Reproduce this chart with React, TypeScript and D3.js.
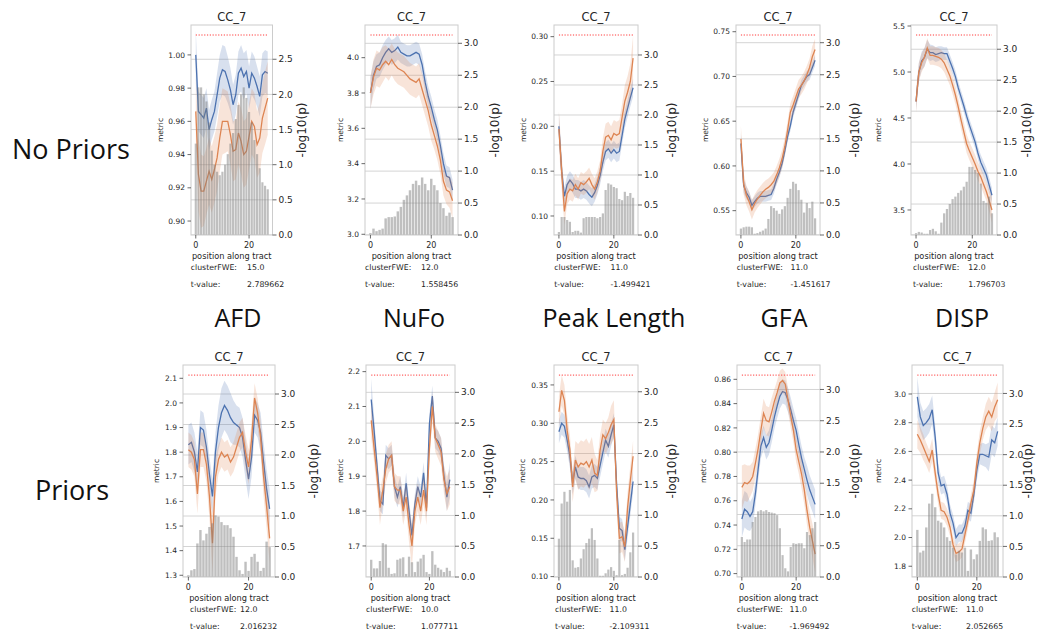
import React from "react";
import * as d3 from "d3";

// ---------------- data ----------------
const positionsAlongTract = [0,1,2,3,4,5,6,7,8,9,10,11,12,13,14,15,16,17,18,19,20,21,22,23,24,25,26,27];
const metricNames = ["AFD", "NuFo", "Peak Length", "GFA", "DISP"];
const rowNames = ["No Priors", "Priors"];
const panelTitle = "CC_7";
const xTickValues = [0, 20];
const pTickValues = [0, 0.5, 1, 1.5, 2, 2.5, 3, 3.5];
const clusterFWE = ["15.0", "12.0", "11.0", "11.0", "12.0", "12.0", "10.0", "11.0", "11.0", "11.0"];
const tValues = ["2.789662", "1.558456", "-1.499421", "-1.451617", "1.796703", "2.016232", "1.077711", "-2.109311", "-1.969492", "2.052665"];
const thresholds = [2.845, 3.13, 3.333, 3.12, 3.23, 3.31, 3.28, 3.27, 3.23, 3.3];
const metricDomains = [
  [0.8916, 1.018], [2.996, 4.185], [0.0788, 0.313], [0.5228, 0.7575], [3.228, 5.511],
  [1.293, 2.154], [1.611, 2.219], [0.0995, 0.376], [0.6972, 0.8718], [1.725, 3.202],
];
const metricTicks = [
  [0.90, 0.92, 0.94, 0.96, 0.98, 1.00],
  [3.0, 3.2, 3.4, 3.6, 3.8, 4.0],
  [0.10, 0.15, 0.20, 0.25, 0.30],
  [0.55, 0.60, 0.65, 0.70, 0.75],
  [3.5, 4.0, 4.5, 5.0, 5.5],
  [1.3, 1.4, 1.5, 1.6, 1.7, 1.8, 1.9, 2.0, 2.1],
  [1.7, 1.8, 1.9, 2.0, 2.1, 2.2],
  [0.10, 0.15, 0.20, 0.25, 0.30, 0.35],
  [0.70, 0.72, 0.74, 0.76, 0.78, 0.80, 0.82, 0.84, 0.86],
  [1.8, 2.0, 2.2, 2.4, 2.6, 2.8, 3.0],
];
const metricTickDecimals = [2, 1, 2, 2, 1, 1, 1, 2, 2, 1];

// Panel 1: AFD, no priors
const p1Blue = [1.000,0.966,0.964,0.962,0.968,0.955,0.961,0.966,0.976,0.986,0.991,0.990,0.985,0.979,0.970,0.976,0.989,0.992,0.987,0.990,0.980,0.989,0.986,0.981,0.975,0.988,0.990,0.989];
const p1BlueCI = [0.015,0.012,0.012,0.012,0.012,0.012,0.012,0.012,0.013,0.014,0.015,0.015,0.014,0.013,0.012,0.012,0.013,0.014,0.014,0.013,0.013,0.013,0.013,0.012,0.012,0.013,0.013,0.013];
const p1Orange = [0.966,0.928,0.918,0.918,0.924,0.930,0.925,0.931,0.938,0.950,0.960,0.960,0.960,0.952,0.942,0.943,0.953,0.948,0.940,0.942,0.951,0.960,0.957,0.946,0.950,0.962,0.968,0.974];
const p1OrangeCI = [0.02,0.022,0.022,0.021,0.02,0.02,0.02,0.02,0.02,0.02,0.02,0.019,0.018,0.018,0.018,0.018,0.019,0.02,0.02,0.02,0.02,0.02,0.02,0.02,0.021,0.021,0.022,0.022];
const p1Bars = [1.3,2.1,2.1,2.0,1.9,1.6,1.2,1.0,0.9,0.85,0.9,1.0,1.15,1.3,1.45,1.65,1.85,2.0,2.1,1.95,1.75,1.6,1.35,1.15,0.95,0.75,0.7,0.65];

// Panel 2: NuFo, no priors
const p2Blue = [3.80,3.90,3.95,3.96,4.00,4.03,4.05,4.03,4.04,4.06,4.03,4.02,4.01,4.01,4.02,4.03,4.02,3.96,3.86,3.78,3.72,3.65,3.59,3.50,3.40,3.33,3.32,3.25];
const p2BlueCI = [0.09,0.08,0.07,0.07,0.07,0.07,0.07,0.07,0.07,0.07,0.06,0.06,0.06,0.06,0.06,0.06,0.06,0.06,0.06,0.06,0.06,0.06,0.06,0.06,0.06,0.06,0.06,0.06];
const p2Orange = [3.80,3.89,3.94,3.93,3.96,3.98,3.96,3.99,3.96,3.94,3.93,3.92,3.90,3.88,3.87,3.86,3.88,3.82,3.76,3.70,3.62,3.56,3.50,3.42,3.30,3.25,3.24,3.19];
const p2OrangeCI = [0.09,0.1,0.1,0.1,0.1,0.09,0.09,0.09,0.09,0.09,0.09,0.09,0.09,0.09,0.09,0.09,0.09,0.09,0.09,0.09,0.09,0.08,0.08,0.08,0.08,0.08,0.09,0.1];
const p2Bars = [0.03,0.1,0.06,0.08,0.1,0.26,0.28,0.28,0.29,0.37,0.44,0.55,0.62,0.7,0.8,0.85,0.78,0.9,0.8,0.7,0.88,0.78,0.7,0.5,0.42,0.3,0.35,0.28];

// Panel 3: Peak Length, no priors
const p3Blue = [0.200,0.150,0.122,0.135,0.140,0.136,0.130,0.130,0.128,0.130,0.128,0.124,0.121,0.126,0.134,0.145,0.160,0.172,0.175,0.170,0.174,0.170,0.172,0.190,0.208,0.220,0.232,0.243];
const p3BlueCI = [0.015,0.012,0.01,0.01,0.01,0.01,0.01,0.01,0.01,0.01,0.01,0.01,0.01,0.01,0.01,0.01,0.01,0.01,0.01,0.01,0.01,0.01,0.01,0.01,0.01,0.01,0.01,0.01];
const p3Orange = [0.197,0.150,0.105,0.125,0.130,0.128,0.135,0.130,0.137,0.135,0.138,0.142,0.135,0.130,0.138,0.150,0.172,0.188,0.190,0.185,0.192,0.190,0.192,0.210,0.228,0.238,0.250,0.276];
const p3OrangeCI = [0.02,0.02,0.015,0.012,0.012,0.012,0.012,0.012,0.012,0.012,0.012,0.012,0.012,0.012,0.012,0.012,0.015,0.015,0.015,0.015,0.015,0.015,0.015,0.015,0.018,0.018,0.02,0.025];
const p3Bars = [0.05,0.3,0.3,0.25,0.22,0.05,0.07,0.07,0.04,0.28,0.3,0.3,0.3,0.3,0.28,0.3,0.36,0.75,0.86,0.84,0.8,0.78,0.6,0.58,0.72,0.65,0.7,0.62];

// Panel 4: GFA, no priors
const p4Blue = [0.625,0.578,0.570,0.565,0.556,0.560,0.564,0.566,0.566,0.566,0.567,0.568,0.575,0.585,0.593,0.603,0.617,0.633,0.645,0.660,0.670,0.680,0.690,0.695,0.700,0.702,0.710,0.718];
const p4BlueCI = [0.012,0.008,0.007,0.006,0.006,0.006,0.006,0.006,0.006,0.006,0.006,0.006,0.006,0.006,0.006,0.006,0.006,0.006,0.006,0.006,0.006,0.006,0.006,0.006,0.006,0.006,0.006,0.006];
const p4Orange = [0.630,0.580,0.567,0.560,0.551,0.558,0.563,0.567,0.571,0.574,0.576,0.579,0.583,0.590,0.598,0.608,0.622,0.640,0.660,0.668,0.677,0.686,0.690,0.695,0.702,0.710,0.722,0.730];
const p4OrangeCI = [0.015,0.012,0.011,0.011,0.011,0.01,0.01,0.01,0.01,0.01,0.01,0.01,0.01,0.01,0.01,0.01,0.01,0.01,0.01,0.01,0.01,0.01,0.01,0.01,0.01,0.01,0.012,0.012];
const p4Bars = [0.1,0.12,0.13,0.13,0.12,0.02,0.03,0.05,0.07,0.1,0.25,0.45,0.42,0.38,0.33,0.4,0.45,0.58,0.72,0.83,0.8,0.7,0.55,0.35,0.5,0.42,0.52,0.26];

// Panel 5: DISP, no priors
const p5Blue = [4.68,5.00,5.12,5.16,5.25,5.21,5.21,5.19,5.20,5.21,5.20,5.20,5.12,5.04,4.95,4.83,4.73,4.63,4.52,4.42,4.33,4.24,4.12,4.02,3.95,3.88,3.77,3.66];
const p5BlueCI = [0.1,0.1,0.1,0.1,0.1,0.09,0.08,0.08,0.08,0.07,0.07,0.07,0.07,0.07,0.07,0.07,0.07,0.07,0.07,0.07,0.07,0.07,0.07,0.08,0.08,0.08,0.08,0.08];
const p5Orange = [4.68,5.00,5.10,5.16,5.26,5.18,5.18,5.17,5.16,5.14,5.10,5.03,4.96,4.86,4.75,4.62,4.48,4.35,4.22,4.14,4.07,4.00,3.92,3.86,3.78,3.70,3.60,3.50];
const p5OrangeCI = [0.12,0.1,0.1,0.1,0.11,0.1,0.1,0.1,0.1,0.1,0.1,0.1,0.1,0.1,0.1,0.1,0.1,0.1,0.1,0.1,0.1,0.1,0.1,0.1,0.1,0.1,0.12,0.14];
const p5Bars = [0.03,0.05,0.04,0.02,0.02,0.08,0.1,0.06,0.02,0.2,0.35,0.42,0.5,0.58,0.62,0.68,0.72,0.78,0.86,1.1,1.1,1.05,1.0,0.83,0.55,0.52,0.62,0.35];

// Panel 6: AFD, priors
const p6Blue = [1.83,1.84,1.80,1.72,1.90,1.89,1.82,1.71,1.62,1.80,1.90,1.96,1.99,1.97,1.94,1.92,1.91,1.90,1.86,1.77,1.69,1.78,1.95,1.93,1.88,1.76,1.65,1.57];
const p6BlueCI = [0.08,0.08,0.08,0.08,0.07,0.07,0.07,0.07,0.07,0.08,0.09,0.1,0.1,0.1,0.1,0.09,0.08,0.08,0.08,0.08,0.08,0.08,0.07,0.07,0.08,0.08,0.08,0.08];
const p6Orange = [1.81,1.80,1.77,1.63,1.81,1.81,1.75,1.62,1.43,1.70,1.77,1.80,1.78,1.79,1.76,1.78,1.82,1.86,1.88,1.80,1.74,1.85,2.02,1.96,1.86,1.70,1.58,1.45];
const p6OrangeCI = [0.07,0.07,0.07,0.08,0.07,0.07,0.07,0.09,0.12,0.08,0.06,0.06,0.06,0.06,0.06,0.06,0.06,0.06,0.06,0.07,0.07,0.07,0.06,0.06,0.07,0.08,0.09,0.1];
const p6Bars = [0.03,0.11,0.13,0.55,0.77,0.6,0.71,0.82,0.88,1.01,0.99,0.9,0.85,0.85,0.8,0.66,0.33,0.11,0.05,0.25,0.1,0.33,0.38,0.25,0.1,0.15,0.58,0.49];

// Panel 7: NuFo, priors
const p7Blue = [2.12,2.03,1.93,1.83,1.82,1.96,1.95,1.96,1.87,1.84,1.87,1.81,1.88,1.80,1.73,1.82,1.87,1.84,1.91,1.81,2.05,2.13,2.01,2.00,1.98,1.90,1.84,1.89];
const p7BlueCI = [0.06,0.04,0.03,0.03,0.03,0.03,0.03,0.03,0.03,0.03,0.03,0.03,0.03,0.03,0.03,0.03,0.03,0.03,0.03,0.03,0.03,0.03,0.03,0.03,0.03,0.03,0.04,0.05];
const p7Orange = [2.06,1.98,1.90,1.81,1.86,1.92,1.95,1.96,1.87,1.86,1.86,1.80,1.84,1.76,1.70,1.80,1.84,1.80,1.86,1.80,1.98,2.10,2.01,1.99,1.97,1.89,1.85,1.87];
const p7OrangeCI = [0.05,0.04,0.04,0.05,0.04,0.04,0.04,0.04,0.04,0.04,0.04,0.04,0.04,0.05,0.06,0.04,0.04,0.04,0.04,0.04,0.04,0.04,0.04,0.04,0.04,0.04,0.05,0.05];
const p7Bars = [0.28,0.14,0.14,0.26,0.55,0.53,0.15,0.05,0.06,0.28,0.3,0.32,0.05,0.33,0.24,0.08,0.25,0.3,0.36,0.08,0.05,0.42,0.2,0.15,0.12,0.08,0.15,0.1];

// Panel 8: Peak Length, priors
const p8Blue = [0.289,0.300,0.296,0.278,0.257,0.222,0.243,0.230,0.228,0.228,0.225,0.217,0.230,0.232,0.228,0.245,0.262,0.278,0.270,0.285,0.298,0.220,0.163,0.160,0.135,0.165,0.195,0.224];
const p8BlueCI = [0.015,0.015,0.015,0.015,0.015,0.015,0.015,0.015,0.015,0.015,0.015,0.015,0.015,0.015,0.015,0.015,0.015,0.015,0.015,0.015,0.015,0.015,0.015,0.015,0.015,0.015,0.015,0.015];
const p8Orange = [0.315,0.343,0.330,0.291,0.265,0.217,0.252,0.243,0.248,0.246,0.250,0.243,0.252,0.235,0.232,0.265,0.285,0.280,0.288,0.298,0.305,0.210,0.150,0.152,0.139,0.190,0.225,0.257];
const p8OrangeCI = [0.02,0.02,0.02,0.02,0.02,0.02,0.025,0.03,0.03,0.03,0.03,0.03,0.03,0.025,0.02,0.02,0.02,0.02,0.02,0.025,0.025,0.02,0.02,0.02,0.02,0.02,0.02,0.02];
const p8Bars = [0.62,1.19,1.38,1.22,1.41,0.27,0.15,0.16,0.3,0.45,0.55,0.62,0.79,0.6,0.3,0.02,0.02,0.06,0.12,0.16,0.1,0.03,0.6,0.03,0.05,0.15,0.4,0.72];

// Panel 9: GFA, priors
const p9Blue = [0.745,0.753,0.751,0.747,0.751,0.766,0.786,0.805,0.812,0.804,0.808,0.818,0.829,0.838,0.846,0.850,0.849,0.843,0.835,0.826,0.818,0.806,0.795,0.786,0.777,0.769,0.763,0.757];
const p9BlueCI = [0.015,0.015,0.015,0.012,0.012,0.01,0.01,0.01,0.01,0.01,0.01,0.01,0.01,0.01,0.01,0.01,0.01,0.01,0.01,0.01,0.01,0.01,0.01,0.01,0.012,0.012,0.012,0.012];
const p9Orange = [0.771,0.775,0.774,0.776,0.780,0.791,0.803,0.818,0.832,0.826,0.825,0.833,0.842,0.849,0.857,0.859,0.856,0.843,0.830,0.818,0.802,0.792,0.782,0.769,0.752,0.738,0.727,0.716];
const p9OrangeCI = [0.018,0.015,0.015,0.013,0.012,0.012,0.012,0.012,0.012,0.012,0.012,0.012,0.01,0.01,0.01,0.01,0.01,0.01,0.01,0.01,0.01,0.01,0.012,0.012,0.012,0.013,0.014,0.015];
const p9Bars = [0.64,0.56,0.6,0.6,0.88,0.96,1.05,1.07,1.05,1.07,1.04,1.03,1.02,0.99,0.78,0.35,0.14,0.09,0.48,0.54,0.53,0.54,0.54,0.46,0.72,0.67,0.78,0.88];

// Panel 10: DISP, priors
const p10Blue = [2.98,2.84,2.78,2.80,2.83,2.89,2.70,2.45,2.36,2.37,2.30,2.17,2.10,2.00,2.03,2.03,2.08,2.19,2.17,2.30,2.47,2.58,2.58,2.57,2.56,2.68,2.66,2.74];
const p10BlueCI = [0.14,0.1,0.1,0.1,0.1,0.1,0.08,0.07,0.06,0.06,0.06,0.06,0.06,0.06,0.06,0.06,0.06,0.06,0.06,0.06,0.07,0.07,0.08,0.08,0.1,0.1,0.1,0.1];
const p10Orange = [2.72,2.68,2.63,2.58,2.53,2.61,2.45,2.30,2.19,2.18,2.14,2.07,1.95,1.89,1.90,1.92,2.02,2.12,2.24,2.33,2.52,2.66,2.76,2.84,2.88,2.84,2.91,2.96];
const p10OrangeCI = [0.1,0.09,0.09,0.08,0.08,0.08,0.07,0.07,0.06,0.06,0.06,0.06,0.06,0.06,0.06,0.06,0.06,0.06,0.06,0.07,0.07,0.08,0.08,0.09,0.1,0.1,0.1,0.12];
const p10Bars = [0.77,0.4,0.43,0.81,1.2,1.36,1.14,0.92,0.89,0.81,0.65,0.59,0.48,0.37,0.43,0.4,0.48,0.1,0.45,0.29,0.37,0.59,0.81,0.78,0.59,0.6,0.73,0.65];

const panelSeries = [
  { blue: p1Blue, blueCI: p1BlueCI, orange: p1Orange, orangeCI: p1OrangeCI, bars: p1Bars },
  { blue: p2Blue, blueCI: p2BlueCI, orange: p2Orange, orangeCI: p2OrangeCI, bars: p2Bars },
  { blue: p3Blue, blueCI: p3BlueCI, orange: p3Orange, orangeCI: p3OrangeCI, bars: p3Bars },
  { blue: p4Blue, blueCI: p4BlueCI, orange: p4Orange, orangeCI: p4OrangeCI, bars: p4Bars },
  { blue: p5Blue, blueCI: p5BlueCI, orange: p5Orange, orangeCI: p5OrangeCI, bars: p5Bars },
  { blue: p6Blue, blueCI: p6BlueCI, orange: p6Orange, orangeCI: p6OrangeCI, bars: p6Bars },
  { blue: p7Blue, blueCI: p7BlueCI, orange: p7Orange, orangeCI: p7OrangeCI, bars: p7Bars },
  { blue: p8Blue, blueCI: p8BlueCI, orange: p8Orange, orangeCI: p8OrangeCI, bars: p8Bars },
  { blue: p9Blue, blueCI: p9BlueCI, orange: p9Orange, orangeCI: p9OrangeCI, bars: p9Bars },
  { blue: p10Blue, blueCI: p10BlueCI, orange: p10Orange, orangeCI: p10OrangeCI, bars: p10Bars },
];

// ---------------- layout ----------------
const panelLayout = [
  { x0: 191, x1: 272.5, y0: 25, y1: 235, metricX: 160, logX: 301.7, textX: 190.7, valX: 247 },
  { x0: 365, x1: 458, y0: 25, y1: 235, metricX: 340, logX: 494.7, textX: 365, valX: 421 },
  { x0: 554, x1: 638, y0: 25, y1: 235, metricX: 523.3, logX: 671.7, textX: 554.3, valX: 610.5 },
  { x0: 736, x1: 820, y0: 25, y1: 235, metricX: 705, logX: 855, textX: 736.7, valX: 790.5 },
  { x0: 911, x1: 997, y0: 25, y1: 235, metricX: 878.3, logX: 1026.7, textX: 913, valX: 968.3 },
  { x0: 183, x1: 275, y0: 365, y1: 577, metricX: 156, logX: 313.3, textX: 190, valX: 240 },
  { x0: 366, x1: 455, y0: 365, y1: 577, metricX: 340, logX: 488.3, textX: 366, valX: 421 },
  { x0: 554, x1: 638, y0: 365, y1: 577, metricX: 522.7, logX: 671.7, textX: 555, valX: 609.5 },
  { x0: 737, x1: 820, y0: 365, y1: 577, metricX: 703.3, logX: 855, textX: 736.7, valX: 789.5 },
  { x0: 912, x1: 1003, y0: 365, y1: 577, metricX: 878.3, logX: 1028, textX: 911.7, valX: 966 },
];
const columnLabelX = [238, 414, 614, 784, 962];
const xDomain = [-1.79, 28.79];

const BLUE = "#4c72b0";
const ORANGE = "#dd8452";
const FONT = "DejaVu Sans, sans-serif";
const TXT = "#262626";

function Panel({ i }: { i: number }) {
  const L = panelLayout[i];
  const s = panelSeries[i];
  const pos = positionsAlongTract;
  const xs = d3.scaleLinear().domain(xDomain).range([L.x0, L.x1]);
  const ym = d3.scaleLinear().domain(metricDomains[i]).range([L.y1, L.y0]);
  const pTop = thresholds[i] * 1.05;
  const yp = d3.scaleLinear().domain([0, pTop]).range([L.y1, L.y0]);
  const rTicks = pTickValues.filter((v) => v <= pTop + 1e-6);
  const line = d3.line<number>().x((_, j) => xs(pos[j])).y((d) => ym(d));
  const area = (m: number[], ci: number[]) =>
    d3.area<number>()
      .x((_, j) => xs(pos[j]))
      .y0((d, j) => ym(d - ci[j]))
      .y1((d, j) => ym(d + ci[j]))(m) || "";
  const bw = xs(0.8) - xs(0);
  const clipId = `clip${i}`;
  const fmt = d3.format(`.${metricTickDecimals[i]}f`);
  const cx = (L.x0 + L.x1) / 2;
  const cy = (L.y0 + L.y1) / 2;
  return (
    <g>
      <defs>
        <clipPath id={clipId}>
          <rect x={L.x0} y={L.y0} width={L.x1 - L.x0} height={L.y1 - L.y0} />
        </clipPath>
      </defs>
      <rect x={L.x0} y={L.y0} width={L.x1 - L.x0} height={L.y1 - L.y0} fill="#fff" />
      <g clipPath={`url(#${clipId})`}>
        {rTicks.map((t) => (
          <line key={t} x1={L.x0} x2={L.x1} y1={yp(t)} y2={yp(t)} stroke="#d4d4d4" strokeWidth={1} />
        ))}
        <path d={area(s.blue, s.blueCI)} fill={BLUE} fillOpacity={0.22} />
        <path d={line(s.blue) || ""} stroke={BLUE} fill="none" strokeWidth={1.3} />
        <path d={area(s.orange, s.orangeCI)} fill={ORANGE} fillOpacity={0.22} />
        <path d={line(s.orange) || ""} stroke={ORANGE} fill="none" strokeWidth={1.3} />
        {s.bars.map((v, j) => (
          <rect key={j} x={xs(pos[j]) - bw / 2} width={bw} y={yp(v)} height={yp(0) - yp(v)} fill="#808080" fillOpacity={0.5} />
        ))}
        <line x1={xs(pos[0])} x2={xs(pos[pos.length - 1])} y1={yp(thresholds[i])} y2={yp(thresholds[i])}
          stroke="#ff3b3b" strokeWidth={1} strokeDasharray="1.2,1.6" />
      </g>
      <rect x={L.x0} y={L.y0} width={L.x1 - L.x0} height={L.y1 - L.y0} fill="none" stroke="#cccccc" strokeWidth={1} />
      {/* left metric axis */}
      {metricTicks[i].map((t) => (
        <g key={t}>
          <line x1={L.x0 - 3.5} x2={L.x0} y1={ym(t)} y2={ym(t)} stroke="#444" strokeWidth={0.8} />
          <text x={L.x0 - 6} y={ym(t)} dy="0.35em" textAnchor="end" fontSize={7.5} fill={TXT} fontFamily={FONT}>{fmt(t)}</text>
        </g>
      ))}
      {/* right p axis */}
      {rTicks.map((t) => (
        <g key={t}>
          <line x1={L.x1} x2={L.x1 + 4} y1={yp(t)} y2={yp(t)} stroke="#444" strokeWidth={0.8} />
          <text x={L.x1 + 6} y={yp(t)} dy="0.35em" textAnchor="start" fontSize={9} fill={TXT} fontFamily={FONT}>{t.toFixed(1)}</text>
        </g>
      ))}
      {/* x axis */}
      {xTickValues.map((t) => (
        <g key={t}>
          <line x1={xs(t)} x2={xs(t)} y1={L.y1} y2={L.y1 + 3.5} stroke="#444" strokeWidth={0.8} />
          <text x={xs(t)} y={L.y1 + 13} textAnchor="middle" fontSize={8} fill={TXT} fontFamily={FONT}>{t}</text>
        </g>
      ))}
      <text x={cx} y={L.y0 - 4.5} textAnchor="middle" fontSize={11.5} fill={TXT} fontFamily={FONT}>{panelTitle}</text>
      <text transform={`translate(${L.metricX},${cy}) rotate(-90)`} textAnchor="middle" dy="0.35em" fontSize={7.5} fill={TXT} fontFamily={FONT}>metric</text>
      <text transform={`translate(${L.logX},${cy}) rotate(-90)`} textAnchor="middle" dy="0.35em" fontSize={12} fill={TXT} fontFamily={FONT}>-log10(p)</text>
      <text x={cx} y={L.y1 + 24} textAnchor="middle" fontSize={8.2} fill={TXT} fontFamily={FONT}>position along tract</text>
      <text x={L.textX} y={L.y1 + 34.5} fontSize={7.8} fill={TXT} fontFamily={FONT}>clusterFWE:</text>
      <text x={L.valX} y={L.y1 + 34.5} fontSize={7.8} fill={TXT} fontFamily={FONT}>{clusterFWE[i]}</text>
      <text x={L.textX} y={L.y1 + 51.5} fontSize={7.8} fill={TXT} fontFamily={FONT}>t-value:</text>
      <text x={L.valX} y={L.y1 + 51.5} fontSize={7.8} fill={TXT} fontFamily={FONT}>{tValues[i]}</text>
    </g>
  );
}

export default function App() {
  return (
    <svg width={1043} height={633} style={{ position: "absolute", left: 0, top: 0, background: "#fff" }}>
      <rect x={0} y={0} width={1043} height={633} fill="#fff" />
      {panelLayout.map((_, i) => <Panel key={i} i={i} />)}
      <text x={12} y={159} fontSize={27} fontFamily="Open Sans, sans-serif" fill="#111">{rowNames[0]}</text>
      <text x={35} y={500} fontSize={27} fontFamily="Open Sans, sans-serif" fill="#111">{rowNames[1]}</text>
      {metricNames.map((m, k) => (
        <text key={m} x={columnLabelX[k]} y={327} textAnchor="middle" fontSize={25} fontFamily="Open Sans, sans-serif" fill="#111">{m}</text>
      ))}
    </svg>
  );
}
